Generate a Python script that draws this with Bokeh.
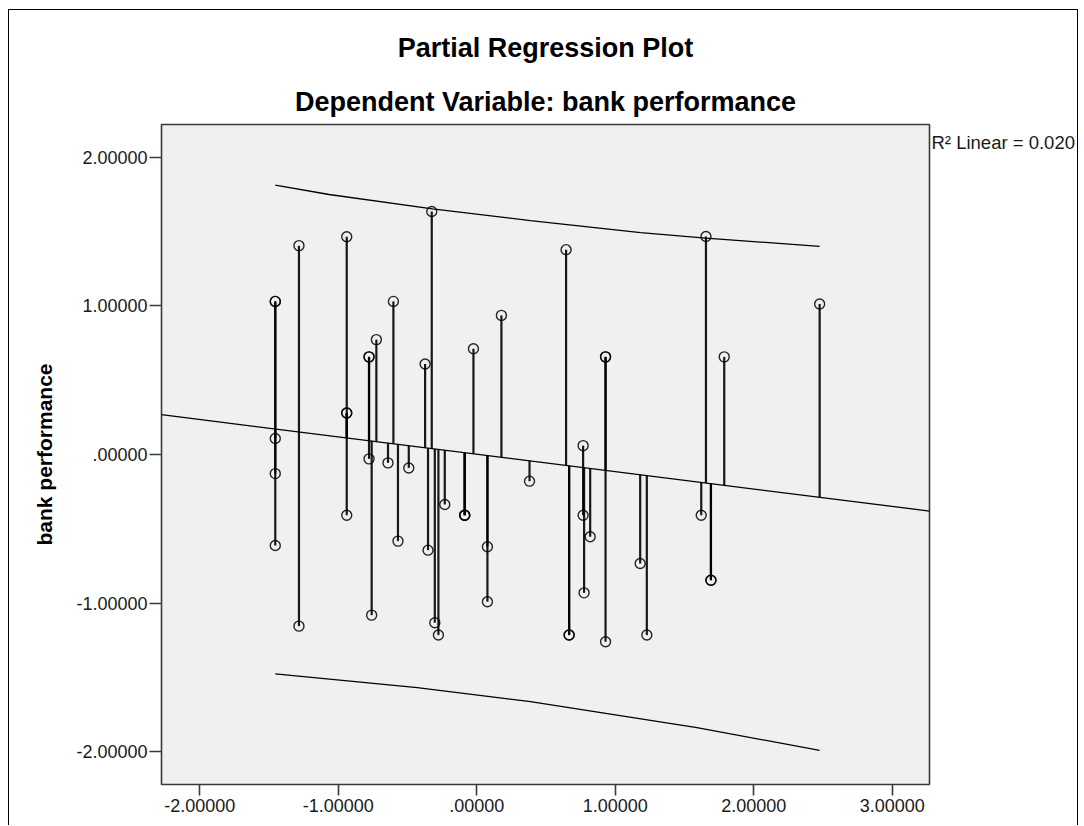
import numpy as np
from bokeh.plotting import figure
from bokeh.models import Range1d, FixedTicker, Title, LinearAxis
from bokeh.embed import file_html
from bokeh.resources import INLINE

# ---- data (partial residuals) ----
x_resid = [-1.455, -1.455, -1.455, -1.455, -1.455,
           -1.284, -1.284,
           -0.939, -0.939, -0.939, -0.939,
           -0.778, -0.778, -0.778,
           -0.759, -0.725, -0.641, -0.602, -0.569, -0.491,
           -0.373, -0.352, -0.325, -0.303, -0.277, -0.231,
           -0.087, -0.087, -0.087, -0.024,
           0.077, 0.077, 0.178, 0.381,
           0.645, 0.667, 0.667,
           0.768, 0.768, 0.775, 0.819,
           0.930, 0.930, 0.930,
           1.180, 1.228, 1.621, 1.655, 1.691, 1.691, 1.787, 2.476]
y_resid = [1.030, 1.030, 0.108, -0.128, -0.612,
           1.405, -1.154,
           1.465, 0.280, 0.280, -0.408,
           0.657, 0.657, -0.029,
           -1.080, 0.773, -0.056, 1.030, -0.582, -0.090,
           0.609, -0.643, 1.635, -1.131, -1.214, -0.336,
           -0.408, -0.408, -0.408, 0.712,
           -0.620, -0.990, 0.936, -0.179,
           1.378, -1.214, -1.214,
           0.060, -0.408, -0.930, -0.553,
           0.657, 0.657, -1.259,
           -0.733, -1.214, -0.408, 1.467, -0.845, -0.845, 0.657, 1.013]

# fitted line (read at the two ends of the x axis)
fit_line_x = [-2.2766, 3.2693]
fit_line_y = [0.268, -0.380]
# 95% individual prediction band
band_upper_x = [-1.455, -1.066, -0.320, 0.388, 1.183, 1.653, 2.476]
band_upper_y = [1.812, 1.749, 1.653, 1.573, 1.492, 1.456, 1.400]
band_lower_x = [-1.455, -0.430, 0.388, 1.590, 2.476]
band_lower_y = [-1.475, -1.567, -1.662, -1.837, -1.989]

x_tick_values = [-2, -1, 0, 1, 2, 3]
x_tick_labels = ["-2.00000", "-1.00000", ".00000", "1.00000", "2.00000", "3.00000"]
y_tick_values = [-2, -1, 0, 1, 2]
y_tick_labels = ["-2.00000", "-1.00000", ".00000", "1.00000", "2.00000"]

title_text = "Partial Regression Plot"
subtitle_text = "Dependent Variable: bank performance"
y_axis_title = "bank performance"
r2_text = "R\u00b2 Linear = 0.020"
R2_LABEL_Y = 2.101   # vertical position of the R² note (in y units)

FONT = "Liberation Sans"
INK = "#3a3a3a"

x = np.array(x_resid)
y = np.array(y_resid)
y_on_fit = np.interp(x, fit_line_x, fit_line_y)

p = figure(title=None, frame_width=768, frame_height=660,
           x_range=Range1d(-2.2766, 3.2693), y_range=Range1d(-2.219, 2.2198),
           output_backend="svg", toolbar_location=None,
           min_border_left=152, min_border_right=148, min_border_top=0,
           min_border_bottom=41)
p.styles = {"margin-left": "8px", "margin-top": "9px",
            "border-left": "1px solid black", "border-top": "1px solid black",
            "border-right": "1px solid black"}

p.background_fill_color = "#F0F0F0"
p.border_fill_color = "white"
p.outline_line_color = INK
p.outline_line_width = 1.6
p.grid.visible = False

for ax, ticks, labels, tout, stand in ((p.xaxis, x_tick_values, x_tick_labels, 11, 3),
                                       (p.yaxis, y_tick_values, y_tick_labels, 12, 2)):
    ax.ticker = FixedTicker(ticks=ticks)
    ax.major_label_overrides = {t: l for t, l in zip(ticks, labels)}
    ax.major_tick_in = 0
    ax.major_tick_out = tout
    ax.major_tick_line_color = INK
    ax.major_tick_line_width = 1.6
    ax.minor_tick_line_color = None
    ax.axis_line_color = None
    ax.major_label_standoff = stand
    ax.major_label_text_font = FONT
    ax.major_label_text_font_size = "18px"
    ax.major_label_text_color = "#1a1a1a"

p.yaxis.axis_label = y_axis_title
p.yaxis.axis_label_text_font = FONT
p.yaxis.axis_label_text_font_size = "21px"
p.yaxis.axis_label_text_font_style = "bold"
p.yaxis.axis_label_text_color = "black"
p.yaxis.axis_label_standoff = 17

# R² note on the right of the frame
r2_axis = LinearAxis(ticker=FixedTicker(ticks=[R2_LABEL_Y]),
                     major_label_overrides={R2_LABEL_Y: r2_text},
                     major_tick_in=0, major_tick_out=0, minor_tick_line_color=None,
                     axis_line_color=None, major_label_standoff=2,
                     major_label_text_font=FONT, major_label_text_font_size="18.5px",
                     major_label_text_color="#1a1a1a")
p.add_layout(r2_axis, "right")

# titles: first added sits closest to the frame
p.add_layout(Title(text=subtitle_text, align="center", vertical_align="bottom",
                   text_font=FONT, text_font_size="27px", text_font_style="bold",
                   text_color="black", standoff=14.6), "above")
p.add_layout(Title(text=title_text, align="center", vertical_align="bottom",
                   text_font=FONT, text_font_size="27px", text_font_style="bold",
                   text_color="black", standoff=29), "above")
p.add_layout(Title(text=" ", text_font_size="1px", standoff=2.9), "above")

# fit line and prediction band
p.line(fit_line_x, fit_line_y, line_color="black", line_width=1.3)
p.line(band_upper_x, band_upper_y, line_color="black", line_width=1.3)
p.line(band_lower_x, band_lower_y, line_color="black", line_width=1.3)
# spikes from each point to the fit line
p.segment(x0=x, y0=y, x1=x, y1=y_on_fit, line_color="black", line_width=2.2, line_alpha=0.9)
# points
p.scatter(x, y, marker="circle", size=10, fill_color=None,
          line_color="black", line_width=1.4, line_alpha=0.85)

open("out.html", "w").write(file_html(p, INLINE))
